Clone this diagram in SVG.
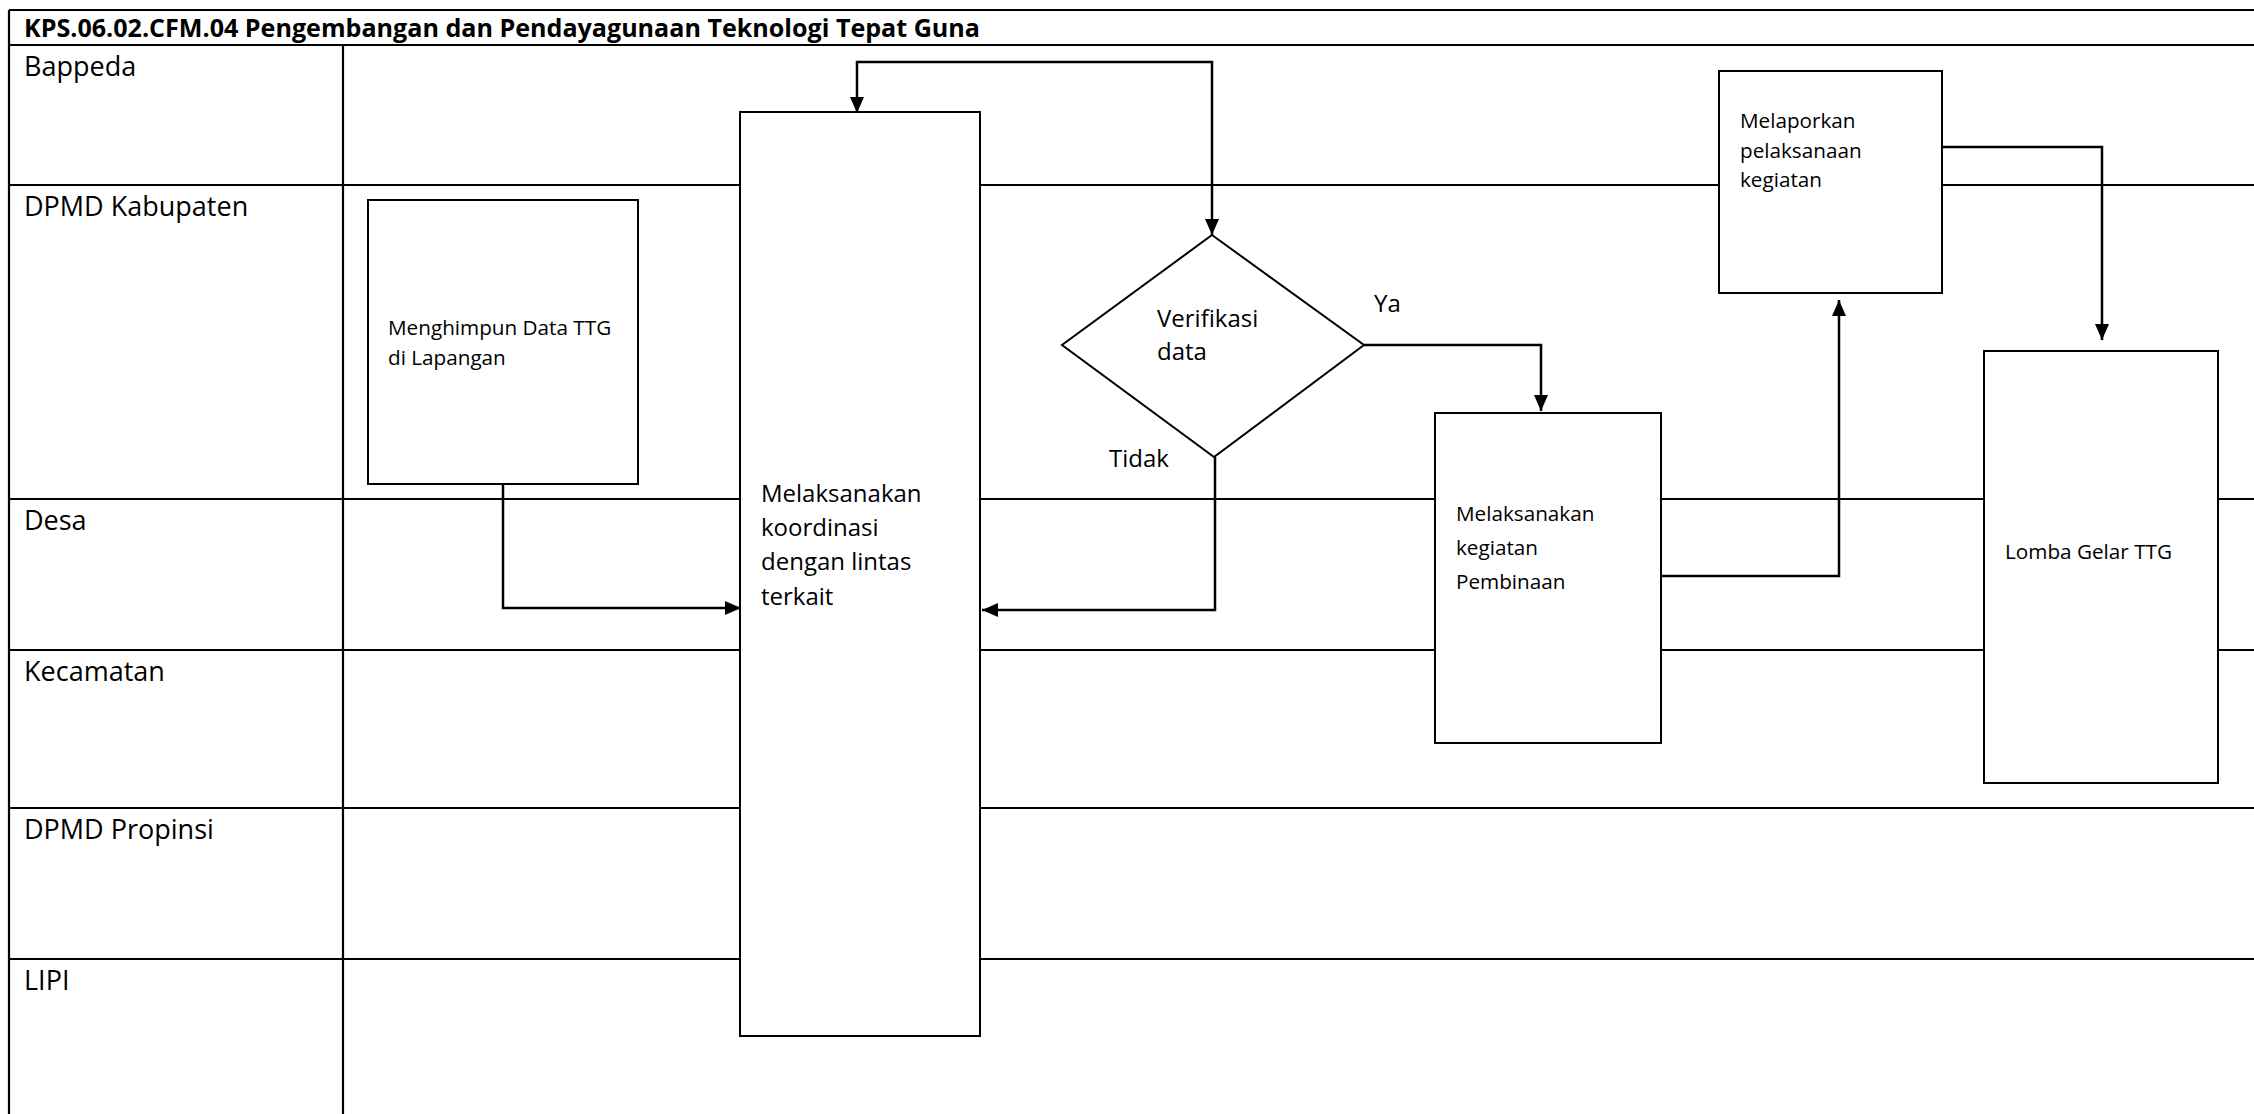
<svg xmlns="http://www.w3.org/2000/svg" width="2254" height="1114" viewBox="0 0 2254 1114">
<style>
.bg{fill:#ffffff}
.ln{stroke:#000;stroke-width:2.2;fill:none}
.box{fill:#fff;stroke:#000;stroke-width:2}
.lane{font-family:"Open Sans","Liberation Sans",sans-serif;font-size:27px;fill:#000}
.title{font-family:"Open Sans","Liberation Sans",sans-serif;font-size:24.5px;font-weight:bold;fill:#000}
.t24{font-family:"Open Sans","Liberation Sans",sans-serif;font-size:24px;fill:#000}
.t21{font-family:"Open Sans","Liberation Sans",sans-serif;font-size:20.7px;fill:#000}
.con{stroke:#000;stroke-width:2.5;fill:none}
</style>
<defs>
<marker id="arr" markerUnits="userSpaceOnUse" markerWidth="16" markerHeight="14" viewBox="0 0 16 14" refX="16" refY="7" orient="auto-start-reverse">
<path d="M0,0 L16,7 L0,14 z" fill="#000"/>
</marker>
</defs>
<rect class="bg" x="0" y="0" width="2254" height="1114"/>
<g id="swimlanes">
<line class="ln" x1="9" y1="10" x2="2254" y2="10"/>
<line class="ln" x1="9" y1="10" x2="9" y2="1114"/>
<line class="ln" x1="9" y1="45" x2="2254" y2="45"/>
<line class="ln" x1="343" y1="45" x2="343" y2="1114"/>
<line class="ln" x1="9" y1="185" x2="2254" y2="185"/>
<line class="ln" x1="9" y1="499" x2="2254" y2="499"/>
<line class="ln" x1="9" y1="650" x2="2254" y2="650"/>
<line class="ln" x1="9" y1="808" x2="2254" y2="808"/>
<line class="ln" x1="9" y1="959" x2="2254" y2="959"/>
<text class="title" x="24" y="37" textLength="956" lengthAdjust="spacingAndGlyphs">KPS.06.02.CFM.04 Pengembangan dan Pendayagunaan Teknologi Tepat Guna</text>
<text class="lane" x="24" y="76">Bappeda</text>
<text class="lane" x="24" y="216">DPMD Kabupaten</text>
<text class="lane" x="24" y="530">Desa</text>
<text class="lane" x="24" y="681">Kecamatan</text>
<text class="lane" x="24" y="839">DPMD Propinsi</text>
<text class="lane" x="24" y="990">LIPI</text>
</g>
<g id="node-menghimpun">
<rect class="box" x="368" y="200" width="270" height="284"/>
<text class="t21" x="388" y="335">Menghimpun Data TTG</text>
<text class="t21" x="388" y="365">di Lapangan</text>
</g>
<g id="node-koordinasi">
<rect class="box" x="740" y="112" width="240" height="924"/>
<text class="t24" x="761" y="502">Melaksanakan</text>
<text class="t24" x="761" y="536">koordinasi</text>
<text class="t24" x="761" y="570">dengan lintas</text>
<text class="t24" x="761" y="605">terkait</text>
</g>
<g id="node-verifikasi">
<polygon class="box" points="1212,235 1364,345 1214,457 1062,345"/>
<text class="t24" x="1157" y="327">Verifikasi</text>
<text class="t24" x="1157" y="360">data</text>
</g>
<g id="node-pembinaan">
<rect class="box" x="1435" y="413" width="226" height="330"/>
<text class="t21" x="1456" y="521">Melaksanakan</text>
<text class="t21" x="1456" y="555">kegiatan</text>
<text class="t21" x="1456" y="589">Pembinaan</text>
</g>
<g id="node-melaporkan">
<rect class="box" x="1719" y="71" width="223" height="222"/>
<text class="t21" x="1740" y="128">Melaporkan</text>
<text class="t21" x="1740" y="158">pelaksanaan</text>
<text class="t21" x="1740" y="187">kegiatan</text>
</g>
<g id="node-lomba">
<rect class="box" x="1984" y="351" width="234" height="432"/>
<text class="t21" x="2005" y="559">Lomba Gelar TTG</text>
</g>
<g id="connectors">
<path class="con" d="M503,484 V608 H741" marker-end="url(#arr)"/>
<path class="con" d="M857,113 V62 H1212 V235" marker-start="url(#arr)" marker-end="url(#arr)"/>
<path class="con" d="M1364,345 H1541 V411" marker-end="url(#arr)"/>
<path class="con" d="M1215,457 V610 H982" marker-end="url(#arr)"/>
<path class="con" d="M1661,576 H1839 V300" marker-end="url(#arr)"/>
<path class="con" d="M1942,147 H2102 V340" marker-end="url(#arr)"/>
<text class="t24" x="1374" y="312">Ya</text>
<text class="t24" x="1109" y="467">Tidak</text>
</g>
</svg>
